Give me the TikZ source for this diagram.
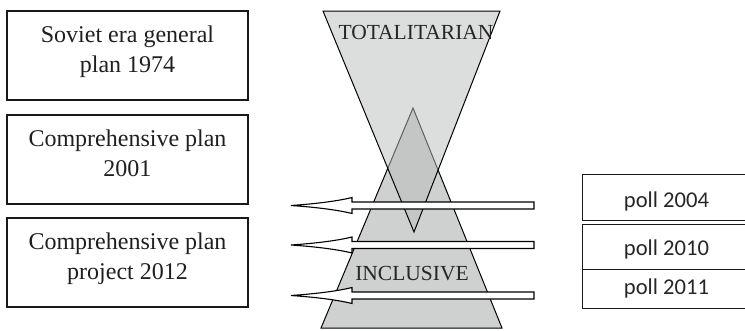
\documentclass[tikz,border=0pt]{standalone}
\usepackage{fontspec}
\setmainfont{Liberation Serif}
\newfontfamily\pollfont{Carlito}
\begin{document}
\begin{tikzpicture}[x=1pt,y=-1pt,
  leftbox/.style={draw=black!90, line width=1.2pt, minimum width=241pt, minimum height=89pt, inner sep=0pt},
  lefttext/.style={align=center, font=\fontsize{24}{30}\selectfont, text=black!88, inner sep=0pt, anchor=north},
  pollbox/.style={draw=black!90, line width=1.2pt, inner sep=0pt, anchor=north west, minimum width=169pt},
  polltext/.style={font=\pollfont\fontsize{22.6}{26}\selectfont, text=black!85, anchor=base, inner sep=0pt},
  hollowarrow/.style={draw=black, line width=1.1pt, fill=white, line join=miter},
  bigtext/.style={font=\fontsize{21.5}{25}\selectfont, text=black!85, anchor=base, inner sep=0pt},
  lowertri/.style={fill={rgb,255:red,207;green,209;blue,209}, draw=black, line width=1pt},
  uppertri/.style={fill={rgb,255:red,186;green,188;blue,188}, fill opacity=0.5, draw=black, line width=1pt}]
\useasboundingbox (0,0) rectangle (745,330);
\clip (0,0) rectangle (745,330);

% left boxes
\node[leftbox] (b1) at (127.5,55.5) {};
\node[leftbox] (b2) at (127.5,159.5) {};
\node[leftbox] (b3) at (127.5,262.5) {};
\node[lefttext] (t1) at ([yshift=-15.5pt]b1.north) {Soviet era general\\plan 1974};
\node[lefttext] (t2) at ([yshift=-15.5pt]b2.north) {Comprehensive plan\\2001};
\node[lefttext] (t3) at ([yshift=-15.5pt]b3.north) {Comprehensive plan\\project 2012};

% right boxes
\node[pollbox, minimum height=46pt] (p1) at (582,174) {};
\node[pollbox, minimum height=45pt] (p2) at (582,224) {};
\node[pollbox, minimum height=39pt] (p3) at (582,269) {};
\node[polltext] (q1) at (666.5,207) {poll 2004};
\node[polltext] (q2) at (666.5,255) {poll 2010};
\node[polltext] (q3) at (666.5,294) {poll 2011};

% triangles
\coordinate (la) at (413,108);
\coordinate (lb) at (321,328);
\coordinate (lc) at (502,328);
\coordinate (ua) at (323,11);
\coordinate (ub) at (500,11);
\coordinate (uc) at (414,232);
\draw[lowertri] (la) -- (lb) -- (lc) -- cycle;
\draw[uppertri] (ua) -- (ub) -- (uc) -- cycle;
\node[bigtext] (tot) at (416,39) {TOTALITARIAN};
\node[bigtext] (inc) at (412,280) {INCLUSIVE};

% arrows
\foreach \c in {205.5,245,295.5}{
  \draw[hollowarrow] (291,\c) .. controls (320,\c-2) and (340,\c-5) .. (352,\c-8)
    -- (352,\c-3.5) -- (534,\c-3.5) -- (534,\c+3.5) -- (352,\c+3.5) -- (352,\c+8)
    .. controls (340,\c+5) and (320,\c+2) .. cycle;
}
\end{tikzpicture}
\end{document}
